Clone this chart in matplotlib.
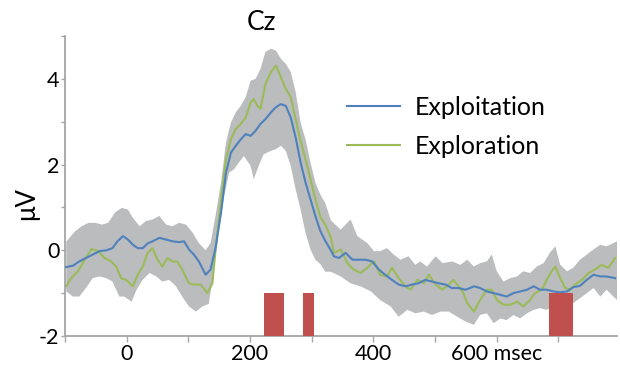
import numpy as np
import matplotlib
matplotlib.use("Agg")
import matplotlib.pyplot as plt

plt.rcParams['font.family'] = ['Lato', 'DejaVu Sans']

# mean ERP, Exploitation (blue)
t_exploit = [-98, -87, -77, -66, -55, -44, -33, -23, -15, -6, 2, 10, 18, 26, 34, 42, 53, 64, 74, 85,
             93, 101, 109, 117, 128, 136, 144, 153, 161, 169, 177, 185, 193, 201, 209, 217, 225, 234,
             242, 250, 258, 266, 274, 282, 290, 298, 306, 314, 322, 331, 336, 344, 355, 366, 376, 387,
             398, 409, 419, 430, 441, 452, 463, 473, 484, 495, 506, 517, 527, 538, 549, 557, 563, 573,
             584, 595, 606, 616, 627, 638, 649, 660, 670, 681, 692, 703, 714, 724, 735, 746, 757, 768,
             778, 792]
v_exploit = [-0.39, -0.36, -0.26, -0.18, -0.10, -0.02, 0.0, 0.05, 0.21, 0.33, 0.25, 0.13, 0.05, 0.05,
             0.16, 0.21, 0.29, 0.25, 0.21, 0.19, 0.21, 0.02, -0.10, -0.26, -0.57, -0.45, 0.05, 0.88,
             1.81, 2.28, 2.44, 2.59, 2.71, 2.67, 2.79, 2.95, 3.06, 3.22, 3.34, 3.41, 3.37, 3.10, 2.63,
             2.05, 1.58, 1.19, 0.80, 0.45, 0.22, 0.0, -0.14, -0.18, -0.06, -0.22, -0.22, -0.22, -0.26,
             -0.45, -0.57, -0.69, -0.80, -0.84, -0.80, -0.77, -0.69, -0.73, -0.77, -0.80, -0.88, -0.88,
             -0.92, -0.88, -0.84, -0.88, -0.96, -1.0, -1.04, -1.08, -1.0, -0.96, -0.92, -0.84, -0.92,
             -0.92, -0.96, -0.98, -0.96, -0.86, -0.83, -0.69, -0.57, -0.61, -0.61, -0.65]

# mean ERP, Exploration (green)
t_explore = [-98, -90, -79, -68, -57, -46, -36, -25, -17, -9, -1, 10, 18, 26, 34, 42, 50, 58, 66, 74,
             82, 90, 101, 109, 120, 131, 139, 144, 153, 161, 169, 177, 185, 193, 201, 206, 212, 217,
             225, 234, 242, 250, 258, 266, 274, 282, 290, 298, 306, 314, 322, 331, 336, 347, 358, 368,
             379, 390, 401, 411, 422, 430, 441, 452, 460, 471, 482, 490, 501, 512, 522, 530, 538, 546,
             552, 563, 573, 584, 592, 600, 611, 622, 633, 643, 654, 662, 673, 681, 689, 695, 703, 711,
             719, 727, 738, 749, 759, 770, 781, 792]
v_explore = [-0.84, -0.65, -0.49, -0.22, 0.03, -0.02, -0.18, -0.26, -0.38, -0.65, -0.69, -0.84, -0.57,
             -0.38, -0.06, 0.05, -0.22, -0.38, -0.18, -0.26, -0.26, -0.45, -0.77, -0.80, -0.80, -1.0,
             -0.77, 0.0, 1.19, 2.12, 2.59, 2.83, 2.95, 3.10, 3.45, 3.53, 3.37, 3.30, 3.88, 4.16, 4.31,
             4.04, 3.77, 3.57, 3.06, 2.55, 2.12, 1.66, 1.19, 0.78, 0.60, 0.30, -0.06, 0.02, -0.30,
             -0.45, -0.53, -0.41, -0.26, -0.57, -0.61, -0.41, -0.65, -0.84, -0.92, -0.69, -0.77, -0.57,
             -0.80, -0.92, -0.80, -0.69, -0.84, -1.0, -1.23, -1.43, -1.16, -0.92, -0.92, -1.16, -1.27,
             -1.27, -1.20, -1.31, -1.16, -1.0, -0.92, -0.69, -0.49, -0.38, -0.65, -0.88, -0.92, -0.80,
             -0.69, -0.53, -0.45, -0.34, -0.41, -0.18]

# shaded error band, upper edge
t_band_hi = [-98, -84, -73, -62, -51, -40, -30, -19, -8, 2, 10, 21, 31, 42, 53, 64, 74, 85, 96, 107,
             117, 128, 136, 144, 153, 161, 169, 177, 185, 193, 201, 209, 217, 225, 234, 242, 250, 258,
             266, 274, 282, 290, 298, 306, 314, 322, 331, 347, 363, 374, 390, 401, 411, 422, 433, 444,
             457, 468, 476, 487, 501, 512, 528, 541, 552, 563, 573, 584, 592, 600, 611, 622, 633, 643,
             654, 665, 676, 686, 695, 703, 714, 724, 735, 746, 757, 768, 778, 795]
v_band_hi = [0.20, 0.44, 0.56, 0.64, 0.64, 0.60, 0.64, 0.88, 0.99, 0.95, 0.76, 0.56, 0.68, 0.72, 0.80,
             0.60, 0.56, 0.64, 0.60, 0.41, 0.17, 0.0, 0.17, 0.80, 1.58, 2.51, 2.98, 3.22, 3.37, 3.57,
             3.96, 4.0, 4.23, 4.63, 4.70, 4.66, 4.47, 4.35, 4.16, 3.69, 2.98, 2.59, 2.05, 1.58, 1.30,
             1.10, 0.70, 0.48, 0.72, 0.33, 0.17, -0.02, -0.02, 0.05, -0.10, -0.22, -0.14, -0.34, -0.26,
             -0.38, -0.14, -0.30, -0.26, -0.34, -0.22, -0.38, -0.30, -0.26, -0.10, -0.49, -0.73, -0.65,
             -0.61, -0.49, -0.53, -0.38, -0.30, -0.06, 0.09, -0.34, -0.49, -0.41, -0.22, -0.10, 0.02,
             0.13, 0.09, 0.21]

# shaded error band, lower edge
t_band_lo = [-98, -87, -77, -66, -55, -44, -33, -23, -12, -4, 8, 16, 26, 37, 48, 58, 69, 80, 90, 101,
             112, 123, 133, 141, 149, 158, 166, 174, 182, 190, 201, 206, 214, 222, 234, 242, 250, 258,
             266, 274, 282, 290, 298, 306, 314, 322, 331, 347, 363, 379, 396, 411, 428, 441, 455, 468,
             482, 495, 509, 522, 536, 549, 563, 573, 584, 595, 606, 616, 627, 638, 649, 660, 670, 681,
             692, 703, 714, 724, 735, 746, 757, 768, 778, 795]
v_band_lo = [-0.96, -1.08, -1.08, -0.88, -0.65, -0.61, -0.65, -0.73, -1.08, -1.08, -1.20, -0.92, -0.69,
             -0.53, -0.61, -0.73, -0.69, -0.84, -1.08, -1.31, -1.43, -1.31, -1.25, -0.53, 0.41, 1.26,
             1.81, 1.89, 2.05, 2.20, 1.97, 1.66, 1.97, 2.24, 2.32, 2.36, 2.44, 2.32, 1.97, 1.42, 0.95,
             0.41, 0.02, -0.22, -0.32, -0.50, -0.50, -0.61, -0.77, -0.84, -0.96, -1.16, -1.31, -1.55,
             -1.39, -1.47, -1.43, -1.51, -1.43, -1.43, -1.55, -1.66, -1.74, -1.51, -1.47, -1.70, -1.59,
             -1.63, -1.51, -1.59, -1.47, -1.39, -1.35, -1.39, -1.31, -1.23, -1.31, -1.23, -1.12, -1.0,
             -0.88, -1.08, -0.92, -1.16]

# significant time windows (ms)
sig_start = [222, 286, 685]
sig_end = [255, 303, 724]

fig = plt.figure(figsize=(6.2, 3.7), dpi=100)
ax = fig.add_axes([65 / 620, 34 / 370, 552 / 620, 300 / 370])

band_x = np.r_[t_band_hi, t_band_lo[::-1]]
band_y = np.r_[v_band_hi, v_band_lo[::-1]]
ax.fill(band_x, band_y, color='#babcbd', lw=0, zorder=1)

ax.plot(t_exploit, v_exploit, color='#4f81bd', lw=1.5, label='Exploitation', zorder=3)
ax.plot(t_explore, v_explore, color='#9bbb59', lw=1.5, label='Exploration', zorder=2)

widths = np.array(sig_end) - np.array(sig_start)
ax.bar(sig_start, [1] * len(sig_start), width=widths, bottom=-2, align='edge',
       color='#c0504d', lw=0, zorder=4)

ax.set_xlim(-98, 795)
ax.set_ylim(-2, 5)

for s in ['top', 'right']:
    ax.spines[s].set_visible(False)
for s in ['left', 'bottom']:
    ax.spines[s].set_color('#a6a6a6')
    ax.spines[s].set_linewidth(1.3)

ax.set_xticks(np.arange(-100, 800, 100))
ax.set_xticklabels(['', '0', '', '200', '', '400', '', '600 msec', ''])
ax.set_yticks(np.arange(-2, 6, 1))
ax.set_yticklabels(['-2', '', '0', '', '2', '', '4', ''])
ax.tick_params(axis='x', direction='out', length=4, width=1, color='#a6a6a6', labelsize=15.5, pad=2)
ax.tick_params(axis='y', direction='out', length=3, width=1, color='#a6a6a6', labelsize=15.5, pad=1)

fig.text(262 / 620, 1 - 22 / 370, 'Cz', fontsize=19, ha='center', va='center')
fig.text(27 / 620, 1 - 204 / 370, 'μV', fontsize=18.5, rotation=90, ha='center', va='center')

ax.legend(loc='upper left', bbox_to_anchor=(0.511, 0.80), frameon=False, fontsize=18,
          handlelength=2.1, handletextpad=0.6, borderpad=0, borderaxespad=0, labelspacing=0.65)

fig.savefig('out.png', dpi=100)
